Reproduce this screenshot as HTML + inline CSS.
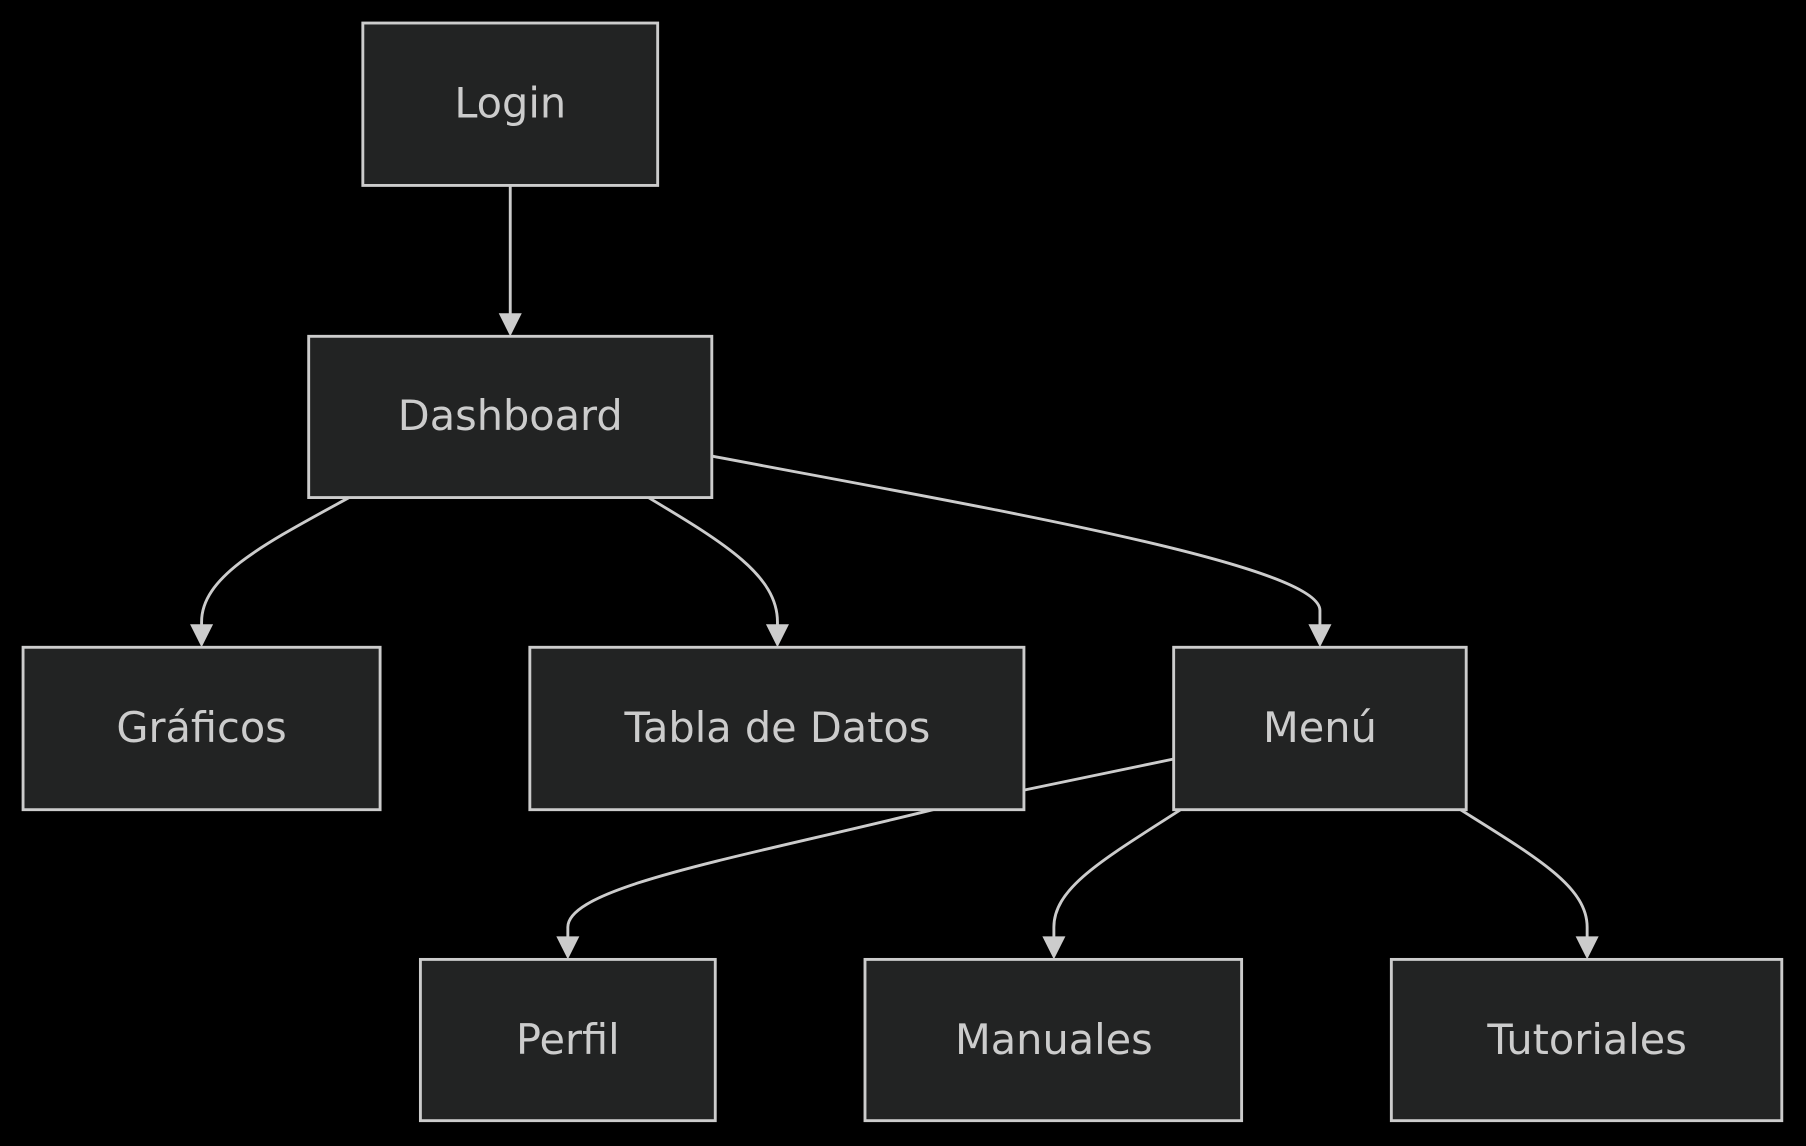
<!DOCTYPE html>
<html><head><meta charset="utf-8"><style>
html,body{margin:0;padding:0;background:#000;}
svg{display:block;}
text{font-family:"DejaVu Sans","Liberation Sans",sans-serif;font-size:36px;fill:#cccccc;text-anchor:middle;dominant-baseline:central;}
.n{fill:#222323;stroke:#cccccc;stroke-width:2.5;}
.e{fill:none;stroke:#cccccc;stroke-width:2.5;}
.a{fill:#cccccc;}
</style></head><body>
<svg width="1806" height="1146" viewBox="0 0 1568 995" xmlns="http://www.w3.org/2000/svg">
<rect width="1568" height="995" fill="#000"/>
<path class="e" d="M443,161 L443,274"/>
<path class="e" d="M303,432 C230,472 175,500 175,540 L175,545"/>
<path class="e" d="M563,432 C630,472 675,500 675,540 L675,545"/>
<path class="e" d="M618,396 C850,440 1146,490 1146,530 L1146,545"/>
<path class="e" d="M1019,659 L889,686"/>
<path class="e" d="M889,686 L810,703 C640,745 493,770 493,805 L493,815"/>
<path class="e" d="M1025,703 C960,745 915,770 915,805 L915,815"/>
<path class="e" d="M1268,703 C1335,745 1378,770 1378,805 L1378,815"/>
<polygon class="a" points="433,272 453,272 443,292"/>
<polygon class="a" points="165,542 185,542 175,562"/>
<polygon class="a" points="665,542 685,542 675,562"/>
<polygon class="a" points="1136,542 1156,542 1146,562"/>
<polygon class="a" points="483,813 503,813 493,833"/>
<polygon class="a" points="905,813 925,813 915,833"/>
<polygon class="a" points="1368,813 1388,813 1378,833"/>
<rect class="n" x="315" y="20" width="256" height="141"/><text x="443" y="90">Login</text>
<rect class="n" x="268" y="292" width="350" height="140"/><text x="443" y="361">Dashboard</text>
<rect class="n" x="20" y="562" width="310" height="141"/><text x="175" y="632">Gráficos</text>
<rect class="n" x="460" y="562" width="429" height="141"/><text x="675" y="632">Tabla de Datos</text>
<rect class="n" x="1019" y="562" width="254" height="141"/><text x="1146" y="632">Menú</text>
<rect class="n" x="365" y="833" width="256" height="140"/><text x="493" y="903">Perfil</text>
<rect class="n" x="751" y="833" width="327" height="140"/><text x="915" y="903">Manuales</text>
<rect class="n" x="1208" y="833" width="339" height="140"/><text x="1378" y="903">Tutoriales</text>
</svg>
</body></html>
